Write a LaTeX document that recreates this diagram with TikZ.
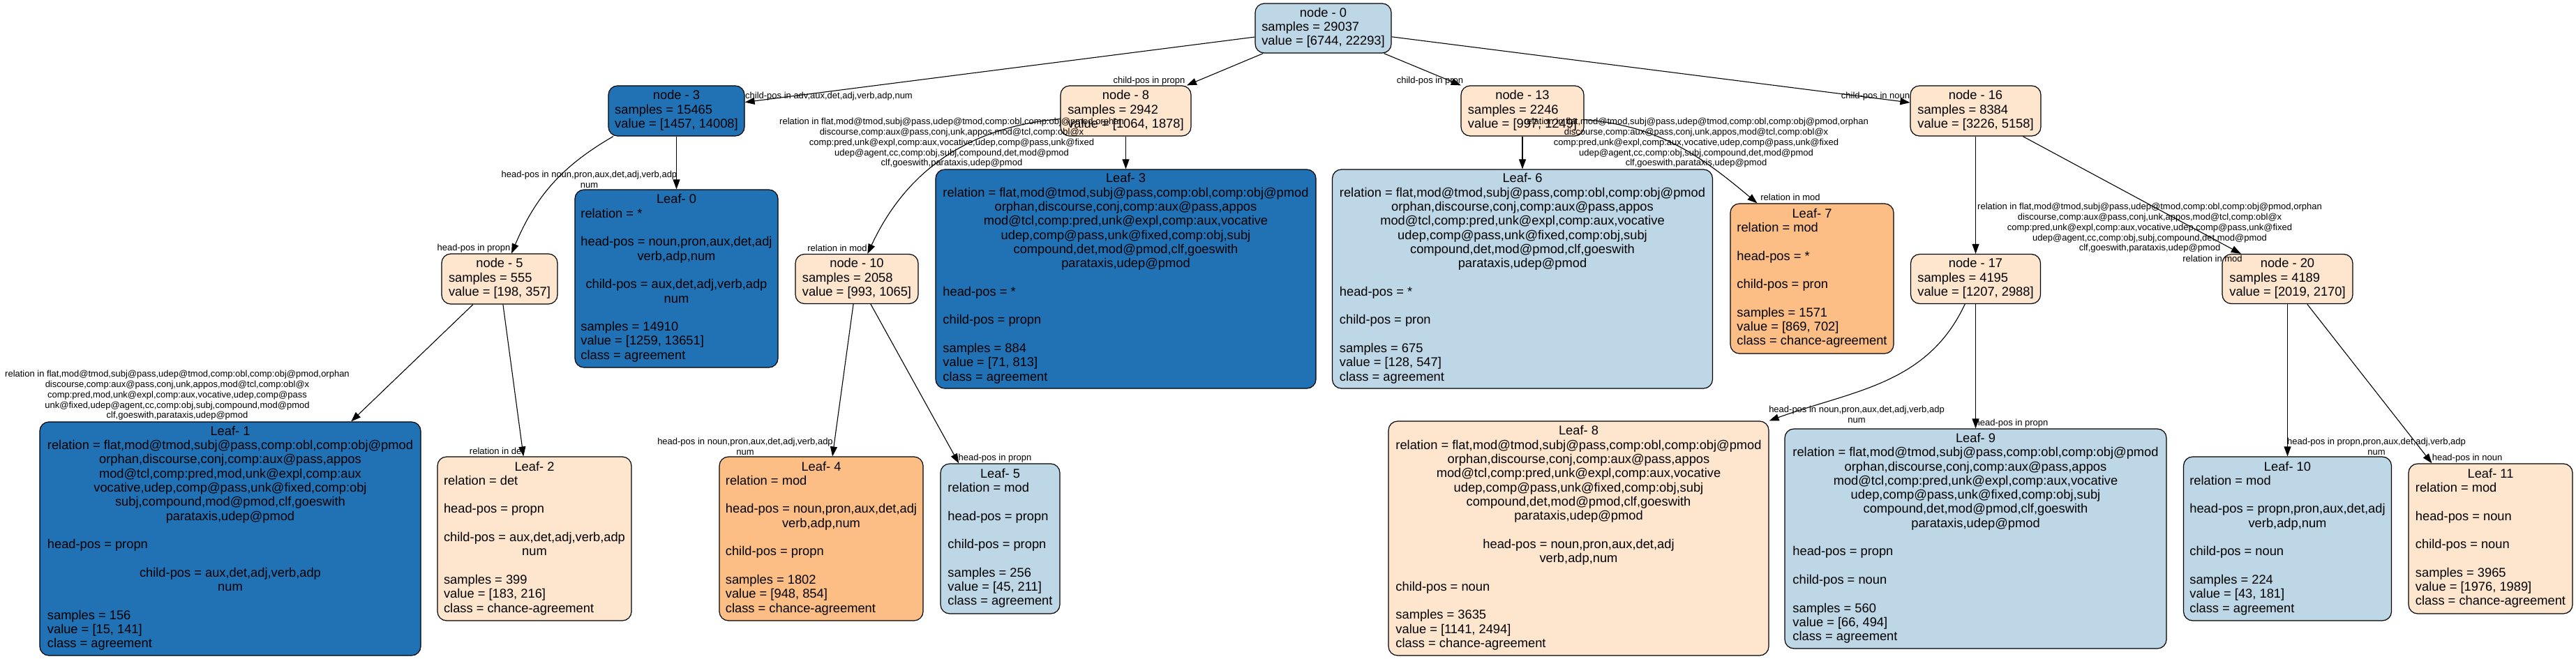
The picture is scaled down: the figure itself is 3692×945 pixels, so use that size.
\documentclass[tikz,border=0pt]{standalone}
\usepackage{fontspec}
\setmainfont{Liberation Sans}
\usetikzlibrary{arrows.meta}

\definecolor{dkblue}{HTML}{2171B5}
\definecolor{ltblue}{HTML}{BDD7E7}
\definecolor{ltorange}{HTML}{FEE6CE}
\definecolor{midorange}{HTML}{FDBE85}

\newcommand{\centred}[1]{\multicolumn{1}{@{}c@{}}{#1}}
\newcommand{\relin}{relation in flat,mod@tmod,subj@pass,udep@tmod,comp:obl,comp:obj@pmod,orphan\\
discourse,comp:aux@pass,conj,unk,appos,mod@tcl,comp:obl@x\\
comp:pred,unk@expl,comp:aux,vocative,udep,comp@pass,unk@fixed\\
udep@agent,cc,comp:obj,subj,compound,det,mod@pmod\\
clf,goeswith,parataxis,udep@pmod}
\newcommand{\relblock}{relation = flat,mod@tmod,subj@pass,comp:obl,comp:obj@pmod\\
\centred{orphan,discourse,conj,comp:aux@pass,appos}\\
\centred{mod@tcl,comp:pred,unk@expl,comp:aux,vocative}\\
\centred{udep,comp@pass,unk@fixed,comp:obj,subj}\\
\centred{compound,det,mod@pmod,clf,goeswith}\\
\centred{parataxis,udep@pmod}}

\begin{document}
\begin{tikzpicture}[x=1pt, y=-1pt,
    box/.style={draw=black, line width=1.2pt, rounded corners=13pt, inner sep=0pt,
        font={\fontsize{18.3}{20.3}\selectfont}},
    dk/.style={box, fill=dkblue},
    lb/.style={box, fill=ltblue},
    lo/.style={box, fill=ltorange},
    md/.style={box, fill=midorange},
    lbl/.style={font={\fontsize{13}{14.8}\selectfont}, align=center, inner sep=0pt},
    arr/.style={line width=1.1pt, -{Triangle[length=14pt, width=10pt]}}]
    \useasboundingbox (0,0) rectangle (3692,945);

    \node[lb, minimum width=195pt, minimum height=71pt] (n0) at (1896.5,40.5)
        {\begin{tabular}{@{}l@{}}\centred{node - 0}\\ samples = 29037\\ value = [6744, 22293]\end{tabular}};
    \node[dk, minimum width=195pt, minimum height=72pt] (n3) at (969.5,159)
        {\begin{tabular}{@{}l@{}}\centred{node - 3}\\ samples = 15465\\ value = [1457, 14008]\end{tabular}};
    \node[lo, minimum width=187pt, minimum height=72pt] (n8) at (1613.5,159)
        {\begin{tabular}{@{}l@{}}\centred{node - 8}\\ samples = 2942\\ value = [1064, 1878]\end{tabular}};
    \node[lo, minimum width=176pt, minimum height=72pt] (n13) at (2182,159)
        {\begin{tabular}{@{}l@{}}\centred{node - 13}\\ samples = 2246\\ value = [997, 1249]\end{tabular}};
    \node[lo, minimum width=187pt, minimum height=72pt] (n16) at (2831.5,159)
        {\begin{tabular}{@{}l@{}}\centred{node - 16}\\ samples = 8384\\ value = [3226, 5158]\end{tabular}};
    \node[lo, minimum width=166pt, minimum height=72pt] (n5) at (716,400)
        {\begin{tabular}{@{}l@{}}\centred{node - 5}\\ samples = 555\\ value = [198, 357]\end{tabular}};
    \node[lo, minimum width=176pt, minimum height=71pt] (n10) at (1228,400)
        {\begin{tabular}{@{}l@{}}\centred{node - 10}\\ samples = 2058\\ value = [993, 1065]\end{tabular}};
    \node[lo, minimum width=186pt, minimum height=71pt] (n17) at (2831.5,400)
        {\begin{tabular}{@{}l@{}}\centred{node - 17}\\ samples = 4195\\ value = [1207, 2988]\end{tabular}};
    \node[lo, minimum width=187pt, minimum height=71pt] (n20) at (3278.5,400)
        {\begin{tabular}{@{}l@{}}\centred{node - 20}\\ samples = 4189\\ value = [2019, 2170]\end{tabular}};

    \node[dk, minimum width=291pt, minimum height=255pt] (l0) at (969.5,399.5)
        {\begin{tabular}{@{}l@{}}\centred{Leaf- 0}\\ relation = *\\ \\
        head-pos = noun,pron,aux,det,adj\\ \centred{verb,adp,num}\\ \\
        \centred{child-pos = aux,det,adj,verb,adp}\\ \centred{num}\\ \\
        samples = 14910\\ value = [1259, 13651]\\ class = agreement\end{tabular}};
    \node[dk, minimum width=546pt, minimum height=335pt] (l1) at (330,772.5)
        {\begin{tabular}{@{}l@{}}\centred{Leaf- 1}\\
        relation = flat,mod@tmod,subj@pass,comp:obl,comp:obj@pmod\\
        \centred{orphan,discourse,conj,comp:aux@pass,appos}\\
        \centred{mod@tcl,comp:pred,mod,unk@expl,comp:aux}\\
        \centred{vocative,udep,comp@pass,unk@fixed,comp:obj}\\
        \centred{subj,compound,mod@pmod,clf,goeswith}\\
        \centred{parataxis,udep@pmod}\\ \\
        head-pos = propn\\ \\
        \centred{child-pos = aux,det,adj,verb,adp}\\ \centred{num}\\ \\
        samples = 156\\ value = [15, 141]\\ class = agreement\end{tabular}};
    \node[lo, minimum width=278pt, minimum height=235pt] (l2) at (766,772.5)
        {\begin{tabular}{@{}l@{}}\centred{Leaf- 2}\\ relation = det\\ \\
        head-pos = propn\\ \\
        child-pos = aux,det,adj,verb,adp\\ \centred{num}\\ \\
        samples = 399\\ value = [183, 216]\\ class = chance-agreement\end{tabular}};
    \node[dk, minimum width=545pt, minimum height=314pt] (l3) at (1613.5,400)
        {\begin{tabular}{@{}l@{}}\centred{Leaf- 3}\\ \relblock\\ \\
        head-pos = *\\ \\ child-pos = propn\\ \\
        samples = 884\\ value = [71, 813]\\ class = agreement\end{tabular}};
    \node[md, minimum width=292pt, minimum height=235pt] (l4) at (1177,772.5)
        {\begin{tabular}{@{}l@{}}\centred{Leaf- 4}\\ relation = mod\\ \\
        head-pos = noun,pron,aux,det,adj\\ \centred{verb,adp,num}\\ \\
        child-pos = propn\\ \\
        samples = 1802\\ value = [948, 854]\\ class = chance-agreement\end{tabular}};
    \node[lb, minimum width=171pt, minimum height=215pt] (l5) at (1433.5,772.5)
        {\begin{tabular}{@{}l@{}}\centred{Leaf- 5}\\ relation = mod\\ \\
        head-pos = propn\\ \\ child-pos = propn\\ \\
        samples = 256\\ value = [45, 211]\\ class = agreement\end{tabular}};
    \node[lb, minimum width=545pt, minimum height=314pt] (l6) at (2182,400)
        {\begin{tabular}{@{}l@{}}\centred{Leaf- 6}\\ \relblock\\ \\
        head-pos = *\\ \\ child-pos = pron\\ \\
        samples = 675\\ value = [128, 547]\\ class = agreement\end{tabular}};
    \node[md, minimum width=234pt, minimum height=215pt] (l7) at (2597,399.5)
        {\begin{tabular}{@{}l@{}}\centred{Leaf- 7}\\ relation = mod\\ \\
        head-pos = *\\ \\ child-pos = pron\\ \\
        samples = 1571\\ value = [869, 702]\\ class = chance-agreement\end{tabular}};
    \node[lo, minimum width=545pt, minimum height=336pt] (l8) at (2262.5,772)
        {\begin{tabular}{@{}l@{}}\centred{Leaf- 8}\\ \relblock\\ \\
        \centred{head-pos = noun,pron,aux,det,adj}\\ \centred{verb,adp,num}\\ \\
        child-pos = noun\\ \\
        samples = 3635\\ value = [1141, 2494]\\ class = chance-agreement\end{tabular}};
    \node[lb, minimum width=547pt, minimum height=315pt] (l9) at (2831.5,772.5)
        {\begin{tabular}{@{}l@{}}\centred{Leaf- 9}\\ \relblock\\ \\
        head-pos = propn\\ \\ child-pos = noun\\ \\
        samples = 560\\ value = [66, 494]\\ class = agreement\end{tabular}};
    \node[lb, minimum width=298pt, minimum height=235pt] (l10) at (3278.5,772.5)
        {\begin{tabular}{@{}l@{}}\centred{Leaf- 10}\\ relation = mod\\ \\
        head-pos = propn,pron,aux,det,adj\\ \centred{verb,adp,num}\\ \\
        child-pos = noun\\ \\
        samples = 224\\ value = [43, 181]\\ class = agreement\end{tabular}};
    \node[lo, minimum width=235pt, minimum height=215pt] (l11) at (3569.5,772.5)
        {\begin{tabular}{@{}l@{}}\centred{Leaf- 11}\\ relation = mod\\ \\
        head-pos = noun\\ \\ child-pos = noun\\ \\
        samples = 3965\\ value = [1976, 1989]\\ class = chance-agreement\end{tabular}};

    \draw[arr] (n0) -- (n3);
    \draw[arr] (n0) -- (n8);
    \draw[arr] (n0) -- (n13);
    \draw[arr] (n0) -- (n16);
    \draw[arr] (n3.202) to[out=210, in=67] (n5.65);
    \draw[arr] (n3) -- (l0);
    \draw[arr] (n5) -- (l1);
    \draw[arr] (n5) -- (l2);
    \draw[arr] (n8) -- (l3);
    \draw[arr] (n8.187) to[out=185, in=65] (n10.67);
    \draw[arr] (n10) -- (l4);
    \draw[arr] (n10) -- (l5);
    \draw[arr] (n13) -- (l6);
    \draw[arr] (n13.352) to[out=355, in=140] (l7.126);
    \draw[arr] (n16) -- (n17);
    \draw[arr] (n16) -- (n20);
    \draw[arr] (n17.247) to[out=245, in=20] (l8.north east);
    \draw[arr] (n17) -- (l9);
    \draw[arr] (n20) -- (l10);
    \draw[arr] (n20) -- (l11);

    \node[lbl] (t3) at (1188,138) {child-pos in adv,aux,det,adj,verb,adp,num};
    \node[lbl] (t8) at (1647,116) {child-pos in propn};
    \node[lbl] (t13) at (2049.5,116) {child-pos in pron};
    \node[lbl] (t16) at (2688,138) {child-pos in noun};
    \node[lbl] (t5) at (679,356) {head-pos in propn};
    \node[lbl] (tl0) at (844.5,257) {head-pos in noun,pron,aux,det,adj,verb,adp\\num};
    \node[lbl] (tl1) at (254,567) {relation in flat,mod@tmod,subj@pass,udep@tmod,comp:obl,comp:obj@pmod,orphan\\
        discourse,comp:aux@pass,conj,unk,appos,mod@tcl,comp:obl@x\\
        comp:pred,mod,unk@expl,comp:aux,vocative,udep,comp@pass\\
        unk@fixed,udep@agent,cc,comp:obj,subj,compound,mod@pmod\\
        clf,goeswith,parataxis,udep@pmod};
    \node[lbl] (tl2) at (712,647) {relation in det};
    \node[lbl] (tl3) at (1364,205) {\relin};
    \node[lbl] (t10) at (1200,356) {relation in mod};
    \node[lbl] (tl4) at (1068,640) {head-pos in noun,pron,aux,det,adj,verb,adp\\num};
    \node[lbl] (tl5) at (1426,657) {head-pos in propn};
    \node[lbl] (tl6) at (2431,205) {\relin};
    \node[lbl] (tl7) at (2566,283) {relation in mod};
    \node[lbl] (t17) at (3081,327) {\relin};
    \node[lbl] (t20) at (3171,371) {relation in mod};
    \node[lbl] (tl8) at (2661,594) {head-pos in noun,pron,aux,det,adj,verb,adp\\num};
    \node[lbl] (tl9) at (2883,607) {head-pos in propn};
    \node[lbl] (tl10) at (3406,640) {head-pos in propn,pron,aux,det,adj,verb,adp\\num};
    \node[lbl] (tl11) at (3536,657) {head-pos in noun};
\end{tikzpicture}
\end{document}
